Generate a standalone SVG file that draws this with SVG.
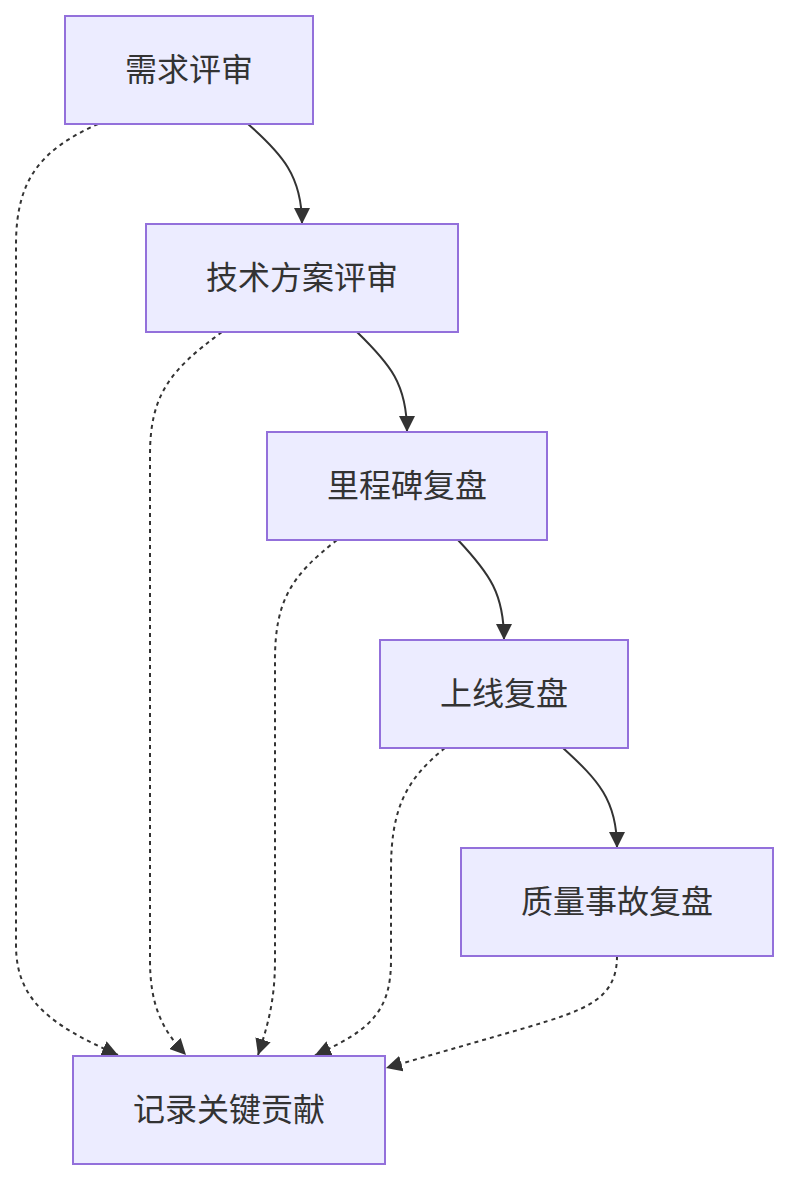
<svg xmlns="http://www.w3.org/2000/svg" width="789" height="1180" viewBox="0 0 789 1180">
<style>
.node rect{fill:#ECECFF;stroke:#9370DB;stroke-width:2}
.node text{fill:#333;font-family:"Noto Sans CJK SC","Liberation Sans",sans-serif;font-size:32px;text-anchor:middle;dominant-baseline:central}
.edge{fill:none;stroke:#333;stroke-width:2}
.dot{stroke-dasharray:4 4}
</style>
<defs>
<marker id="arr" viewBox="0 0 10 10" refX="10" refY="5" markerUnits="userSpaceOnUse" markerWidth="16" markerHeight="16" orient="auto">
<path d="M0,0 L10,5 L0,10 z" fill="#333"/>
</marker>
</defs>
<rect width="789" height="1180" fill="#fff"/>
<g id="connectors">
<path class="edge" d="M248,124 C282,154 302,176 302,224" marker-end="url(#arr)"/>
<path class="edge" d="M357,332 C390,364 407,384 407,432" marker-end="url(#arr)"/>
<path class="edge" d="M458,540 C490,574 504,594 504,640" marker-end="url(#arr)"/>
<path class="edge" d="M563,748 C598,780 617,800 617,848" marker-end="url(#arr)"/>
<path class="edge dot" d="M98,124 C40,150 16,180 16,245 L16,945 C16,1000 50,1025 118,1055" marker-end="url(#arr)"/>
<path class="edge dot" d="M222,332 C170,370 150,395 150,455 L150,960 C150,1005 162,1030 186,1055" marker-end="url(#arr)"/>
<path class="edge dot" d="M337,540 C292,575 275,600 275,660 L275,960 C275,1000 268,1025 258,1055" marker-end="url(#arr)"/>
<path class="edge dot" d="M445,748 C405,780 391,810 391,870 L391,960 C391,1010 372,1030 315,1055" marker-end="url(#arr)"/>
<path class="edge dot" d="M617,956 C617,1000 585,1010 525,1028 L386,1068" marker-end="url(#arr)"/>
</g>
<g id="n1" class="node"><rect x="65" y="16" width="248" height="108"/><text x="189" y="67">需求评审</text></g>
<g id="n2" class="node"><rect x="146" y="224" width="312" height="108"/><text x="302" y="275">技术方案评审</text></g>
<g id="n3" class="node"><rect x="267" y="432" width="280" height="108"/><text x="407" y="483">里程碑复盘</text></g>
<g id="n4" class="node"><rect x="380" y="640" width="248" height="108"/><text x="504" y="691">上线复盘</text></g>
<g id="n5" class="node"><rect x="461" y="848" width="312" height="108"/><text x="617" y="899">质量事故复盘</text></g>
<g id="n6" class="node"><rect x="73" y="1056" width="312" height="108"/><text x="229" y="1107">记录关键贡献</text></g>
</svg>
